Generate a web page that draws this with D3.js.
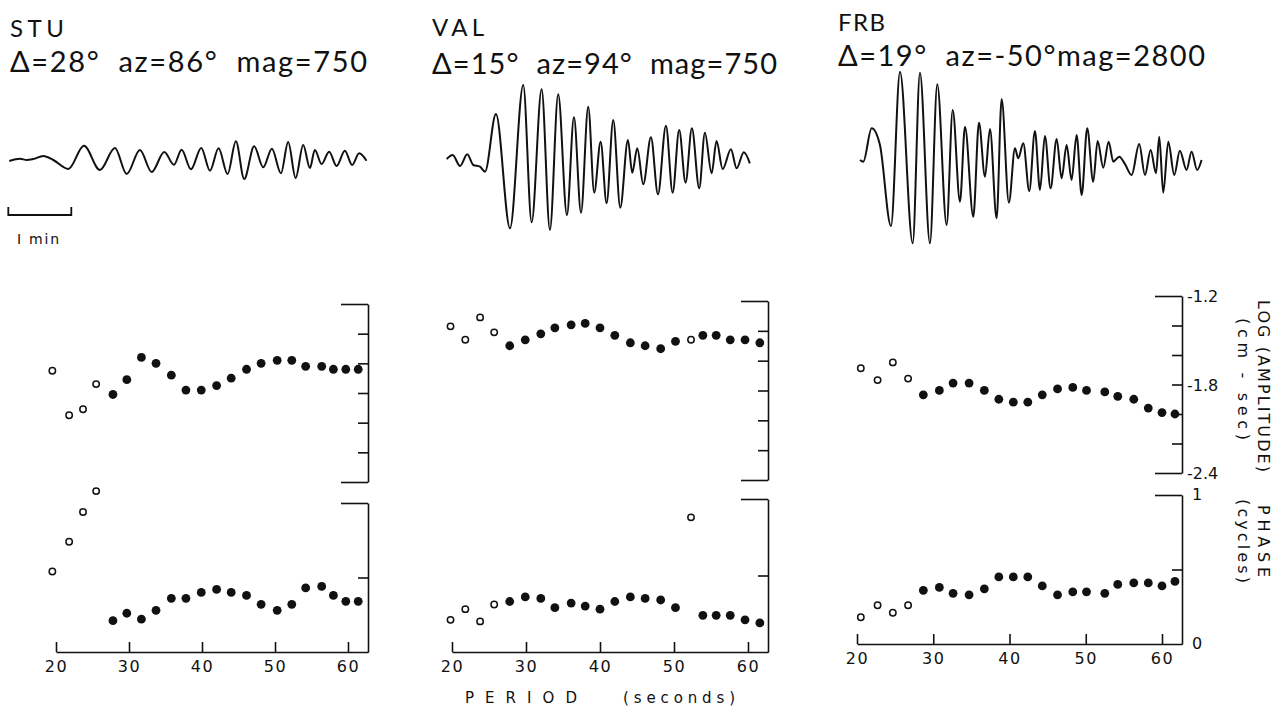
<!DOCTYPE html>
<html><head><meta charset="utf-8">
<script src="https://cdn.jsdelivr.net/npm/d3@7"></script>
<style>html,body{margin:0;padding:0;background:#fff;} svg{display:block;}</style>
</head><body><svg id="chart" width="1281" height="712"></svg>
<script>
// ---------------- DATA ----------------
const stationNames = ["STU", "VAL", "FRB"];
const stationInfo = ["Δ=28°  az=86°  mag=750", "Δ=15°  az=94°  mag=750", "Δ=19°  az=-50°mag=2800"];

const periodTicks = [20, 30, 40, 50, 60];
const ampTicks = [-1.2, -1.4, -1.6, -1.8, -2.0, -2.2, -2.4];
const ampLabels = [-1.2, -1.8, -2.4];
const phaseTicks = [0.5, 1];
const phaseLabels = [0, 1];

// STU
const stuPeriod = [19.5,21.8,23.7,25.5,27.8,29.7,31.7,33.7,35.8,37.8,39.9,42.0,44.0,46.1,48.1,50.3,52.3,54.2,56.4,58.0,59.7,61.4];
const stuLogAmp = [-1.65,-1.95,-1.91,-1.74,-1.81,-1.71,-1.56,-1.60,-1.68,-1.78,-1.78,-1.75,-1.70,-1.64,-1.60,-1.58,-1.58,-1.62,-1.62,-1.64,-1.64,-1.64];
const stuPhase  = [0.54,0.74,0.94,1.08,0.21,0.26,0.22,0.28,0.36,0.36,0.40,0.42,0.40,0.38,0.32,0.28,0.32,0.43,0.44,0.38,0.34,0.34];
const stuOpen   = [1,1,1,1,0,0,0,0,0,0,0,0,0,0,0,0,0,0,0,0,0,0];

// VAL
const valPeriod = [19.8,21.8,23.8,25.7,27.8,29.9,32.0,33.9,36.1,38.0,40.0,42.0,44.1,46.1,48.2,50.2,52.3,53.9,55.7,57.6,59.6,61.6];
const valLogAmp = [-1.37,-1.46,-1.31,-1.41,-1.50,-1.46,-1.42,-1.38,-1.36,-1.35,-1.38,-1.43,-1.48,-1.50,-1.52,-1.47,-1.46,-1.43,-1.43,-1.46,-1.46,-1.48];
const valPhase  = [0.21,0.28,0.20,0.31,0.33,0.36,0.35,0.29,0.32,0.30,0.28,0.33,0.36,0.35,0.34,0.29,0.88,0.24,0.24,0.24,0.21,0.19];
const valOpen   = [1,1,1,1,0,0,0,0,0,0,0,0,0,0,0,0,1,0,0,0,0,0];

// FRB
const frbPeriod = [20.5,22.7,24.7,26.7,28.7,30.8,32.6,34.7,36.7,38.6,40.5,42.4,44.3,46.3,48.3,50.1,52.5,54.2,56.3,58.2,60.0,61.7];
const frbLogAmp = [-1.69,-1.77,-1.65,-1.76,-1.87,-1.84,-1.79,-1.79,-1.84,-1.90,-1.92,-1.92,-1.87,-1.83,-1.82,-1.84,-1.85,-1.88,-1.90,-1.96,-1.99,-2.00];
const frbPhase  = [0.18,0.26,0.21,0.26,0.36,0.38,0.34,0.33,0.37,0.45,0.45,0.45,0.39,0.33,0.35,0.35,0.34,0.40,0.41,0.41,0.39,0.42];
const frbOpen   = [1,1,1,1,0,0,0,0,0,0,0,0,0,0,0,0,0,0,0,0,0,0];

// Seismogram traces: time (s) and relative amplitude, read at turning points
const stuTraceT = [0,10.2,16.6,22.8,32.4,41.9,56.2,71.1,86.3,100.6,111.8,124.4,135.6,147.6,156.8,164.1,173.0,182.8,191.1,199.3,207.9,215.8,223.7,233.2,241.8,250.1,258.7,265.6,272.7,279.9,286.3,291.0,297.4,304.6,311.7,319.6,326.5,333.2,340.2];
const stuTraceA = [-1,1.3,0,1,4,0,-9,14.3,-10,12,-14,10,-12,8,-4.7,10.3,-9.3,12,-10.7,11.7,-14,18.7,-19,13.7,-7.3,11.3,-13.3,18,-18,15,-8,10,-4,8.3,-6,9.3,-5,6.7,-0.7];

const valTraceT = [0,5.7,12.7,19.6,25.3,31.7,36.5,46.9,60.3,72.9,80.9,90.4,98.3,106.2,114.5,121.2,127.9,134.8,140.5,146.6,152.3,158.6,165.3,172.6,176.7,181.5,187.2,194.5,201.2,208.8,215.2,221.4,227.5,233.5,240.5,245.9,252.3,257.0,262.8,270.7,276.1,283.0,288.7];
const valTraceA = [1,5,-6,5.7,-5,-6.7,-11.7,46,-68.3,75,-62.3,70.7,-70,65.7,-55,42.7,-52.7,53.3,-32.7,18.3,-43.3,40,-47.7,20,-12.7,11.7,-24.3,22.7,-34.3,34.3,-32.7,30,-22.7,31.7,-28.3,27.3,-13.3,19,-9,10.7,-8.3,7.7,-3.3];

const frbTraceT = [0,3.1,11.1,19.0,29.5,38.1,50.2,57.1,66.6,73.6,82.5,88.3,95.2,100.0,107.9,113.3,119.0,123.8,130.1,134.9,141.8,147.6,150.7,155.5,161.2,166.6,171.4,176.1,181.5,187.3,192.0,196.8,201.5,206.3,211.1,216.4,222.1,226.3,231.7,236.8,241.2,246.9,252.3,258.7,265.9,271.4,276.8,281.9,285.0,288.8,293.6,299.3,304.6,311.0,315.8,321.1,325.3];
const frbTraceA = [0,-1.7,31.7,15,-66,88.3,-83.3,87.3,-83.3,75.7,-65,50,-41.7,33.3,-56.7,37.3,-16.7,31,-58.3,60.7,-42.7,11.7,1.7,16.7,-31,29,-30,24,-28.3,21,-18.3,15,-20,25,-35,31.7,-21.7,19,-7.7,18.3,-1.7,3.3,-4,-15,16,-15,10,-13.3,23.3,-32.7,18.3,-15,9.3,-10,8.3,-10,0];

// ---------------- LAYOUT ----------------
const layout = [
  {x20:56,  x60:348,  axisX:368,  ampTop:304, ampBot:482, phTop:503, phBot:652, trX0:9.3,  trBase:160, hx:10,  hy1:37, hy2:72, hw1:54, hw2:357, labels:false},
  {x20:452, x60:748,  axisX:768,  ampTop:301, ampBot:480, phTop:499, phBot:652, trX0:446.7,trBase:160, hx:432, hy1:36, hy2:74, hw1:52, hw2:345, labels:false},
  {x20:857, x60:1162, axisX:1182, ampTop:296, ampBot:473, phTop:495, phBot:644, trX0:860,  trBase:160, hx:838, hy1:31, hy2:66, hw1:47, hw2:367, labels:true}
];
const FONT = "'DejaVu Sans', 'Liberation Sans', sans-serif";
const HFONT = "Lato, 'DejaVu Sans', sans-serif";

const panels = [
  {period:stuPeriod, amp:stuLogAmp, phase:stuPhase, open:stuOpen, tT:stuTraceT, tA:stuTraceA},
  {period:valPeriod, amp:valLogAmp, phase:valPhase, open:valOpen, tT:valTraceT, tA:valTraceA},
  {period:frbPeriod, amp:frbLogAmp, phase:frbPhase, open:frbOpen, tT:frbTraceT, tA:frbTraceA}
];

const svg = d3.select("#chart");
svg.append("rect").attr("width",1281).attr("height",712).attr("fill","#fff");

panels.forEach((P, k) => {
  const L = layout[k];
  const g = svg.append("g");

  // header
  g.append("text").attr("x", L.hx).attr("y", L.hy1).text(stationNames[k])
    .attr("font-family", HFONT).attr("font-size", 24).attr("fill", "#111")
    .attr("textLength", L.hw1).attr("lengthAdjust", "spacing");
  g.append("text").attr("x", L.hx).attr("y", L.hy2).text(stationInfo[k])
    .attr("font-family", HFONT).attr("font-size", 29).attr("fill", "#111").style("white-space", "pre")
    .attr("textLength", L.hw2).attr("lengthAdjust", "spacing");

  // trace
  const tx = d3.scaleLinear().domain([0, 60]).range([L.trX0, L.trX0 + 63]);
  const ty = d3.scaleLinear().domain([0, 100]).range([L.trBase, L.trBase - 100]);
  const line = d3.line().x(i => tx(P.tT[i])).y(i => ty(P.tA[i])).curve(d3.curveMonotoneX);
  g.append("path").attr("d", line(d3.range(P.tT.length)))
    .attr("fill", "none").attr("stroke", "#111").attr("stroke-width", 2)
    .attr("stroke-linejoin", "round");

  if (k === 0) {
    // 1-minute scale bar
    const sx = d3.scaleLinear().domain([0, 60]).range([8.3, 71.3]);
    const sb = g.append("g").attr("stroke", "#111").attr("stroke-width", 1.8).attr("fill", "none");
    sb.append("path").attr("d", `M${sx(0)},207V215H${sx(60)}V207`);
    g.append("text").attr("x", 17).attr("y", 244).text("I min")
      .attr("font-family", FONT).attr("font-size", 14).attr("fill", "#111")
      .attr("textLength", 42).attr("lengthAdjust", "spacing");
  }

  // scales
  const x = d3.scaleLinear().domain([20, 60]).range([L.x20, L.x60]);
  const xAx = d3.scaleLinear().domain([20, x.invert(L.axisX)]).range([L.x20, L.axisX]);
  const yAmp = d3.scaleLinear().domain([-2.4, -1.2]).range([L.ampBot, L.ampTop]);
  const yPh = d3.scaleLinear().domain([0, 1]).range([L.phBot, L.phTop]);

  // bottom period axis
  const bx = g.append("g").attr("transform", `translate(0,${L.phBot})`)
    .call(d3.axisBottom(xAx).tickValues(periodTicks).tickSize(-10).tickSizeOuter(0).tickPadding(9).tickFormat(d3.format("d")));
  bx.select(".domain").attr("stroke", "#111").attr("stroke-width", 1.6);
  bx.selectAll(".tick line").attr("stroke", "#111").attr("stroke-width", 1.6);
  bx.selectAll(".tick text").attr("font-family", FONT).attr("font-size", 16).attr("fill", "#111").attr("letter-spacing", 1.5);

  // right amplitude axis
  const ay = g.append("g").attr("transform", `translate(${L.axisX},0)`)
    .call(d3.axisLeft(yAmp).tickValues(ampTicks).tickSize(10).tickSizeOuter(0).tickFormat(""));
  ay.select(".domain").attr("stroke", "#111").attr("stroke-width", 1.6);
  ay.selectAll(".tick line").attr("stroke", "#111").attr("stroke-width", 1.6)
    .attr("x2", d => (d === -1.2 || d === -2.4) ? -27 : -10);

  // right phase axis
  const py = g.append("g").attr("transform", `translate(${L.axisX},0)`)
    .call(d3.axisLeft(yPh).tickValues(phaseTicks).tickSize(10).tickSizeOuter(0).tickFormat(""));
  py.select(".domain").attr("stroke", "#111").attr("stroke-width", 1.6);
  py.selectAll(".tick line").attr("stroke", "#111").attr("stroke-width", 1.6)
    .attr("x2", d => d === 1 ? -27 : -10);

  if (L.labels) {
    g.selectAll(".alab").data(ampLabels).join("text")
      .attr("x", L.axisX + 5).attr("y", d => yAmp(d) + 6)
      .text(d => d3.format(".1f")(d).replace("−", "-"))
      .attr("font-family", FONT).attr("font-size", 16).attr("fill", "#111");
    g.selectAll(".plab").data(phaseLabels).join("text")
      .attr("x", L.axisX + 10).attr("y", d => yPh(d) + 5)
      .text(d => d3.format("d")(d))
      .attr("font-family", FONT).attr("font-size", 16).attr("fill", "#111");
  }

  // dots
  const idx = d3.range(P.period.length);
  const drawDots = (vals, yS) => {
    g.append("g").selectAll("circle").data(idx).join("circle")
      .attr("cx", i => x(P.period[i])).attr("cy", i => yS(vals[i]))
      .attr("r", i => P.open[i] ? 3.2 : 4.4)
      .attr("fill", i => P.open[i] ? "#fff" : "#111")
      .attr("stroke", "#111").attr("stroke-width", i => P.open[i] ? 1.5 : 0);
  };
  drawDots(P.amp, yAmp);
  drawDots(P.phase, yPh);
});

// right-hand rotated labels
const rl = [
  {t:"LOG (AMPLITUDE)", x:1262, y:386, len:172},
  {t:"(cm - sec)", x:1242, y:379, len:122},
  {t:"PHASE", x:1262, y:541, len:72},
  {t:"(cycles)", x:1242, y:541, len:84}
];
svg.selectAll(".rl").data(rl).join("text")
  .attr("transform", d => `translate(${d.x},${d.y}) rotate(90)`)
  .attr("x", d => -d.len / 2)
  .attr("dominant-baseline", "middle")
  .attr("font-family", FONT).attr("font-size", 16)
  .attr("fill", "#111").attr("textLength", d => d.len).attr("lengthAdjust", "spacing")
  .text(d => d.t);

// x title
svg.append("text").attr("x", 465).attr("y", 703).text("PERIOD")
  .attr("font-family", FONT).attr("font-size", 15).attr("fill", "#111")
  .attr("textLength", 112).attr("lengthAdjust", "spacing");
svg.append("text").attr("x", 623).attr("y", 703).text("(seconds)")
  .attr("font-family", FONT).attr("font-size", 15).attr("fill", "#111")
  .attr("textLength", 112).attr("lengthAdjust", "spacing");
</script>
</body></html>
